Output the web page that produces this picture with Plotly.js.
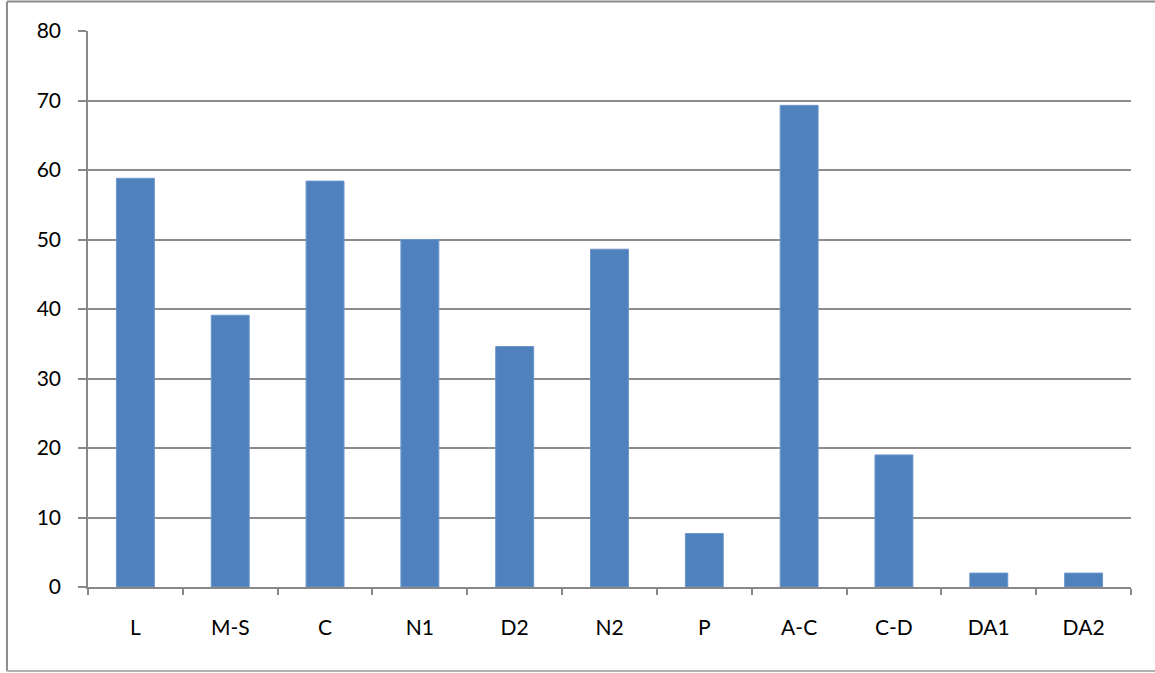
<!DOCTYPE html>
<html>
<head>
<meta charset="utf-8">
<script src="https://cdn.plot.ly/plotly-3.0.1.min.js"></script>
<style>
  html, body { margin: 0; padding: 0; background: #fff; }
  #chart { width: 1155px; height: 673px; }
</style>
</head>
<body>
<div id="chart"></div>
<script>
const categories = ["L", "M-S", "C", "N1", "D2", "N2", "P", "A-C", "C-D", "DA1", "DA2"];
const values = [58.8, 39.1, 58.4, 50.0, 34.6, 48.6, 7.7, 69.3, 19.0, 2.0, 2.0];
const yTicks = [0, 10, 20, 30, 40, 50, 60, 70, 80];

const fontFam = "Lato";

const trace = {
  type: "bar",
  x: categories,
  y: values,
  marker: { color: "#4f81bd", line: { color: "#6b96cb", width: 1 } },
  hoverinfo: "x+y"
};

const layout = {
  width: 1155,
  height: 673,
  margin: { l: 88, r: 24, t: 31, b: 86 },
  paper_bgcolor: "#ffffff",
  plot_bgcolor: "#ffffff",
  showlegend: false,
  bargap: 0.6,
  font: { family: fontFam, size: 21, color: "#000" },
  xaxis: {
    type: "category",
    showgrid: false,
    showline: true,
    linecolor: "#888888",
    linewidth: 1.5,
    ticks: "outside",
    tickson: "boundaries",
    ticklen: 6,
    tickcolor: "#888888",
    tickwidth: 1.5,
    ticklabelstandoff: 21,
    tickfont: { family: fontFam, size: 21, color: "#000" },
    fixedrange: true
  },
  yaxis: {
    range: [0, 80],
    tickvals: yTicks,
    ticktext: yTicks.map(String),
    showgrid: true,
    gridcolor: "#8c8c8c",
    gridwidth: 1.5,
    zeroline: false,
    showline: true,
    linecolor: "#888888",
    linewidth: 1.5,
    ticks: "outside",
    ticklen: 8,
    tickcolor: "#888888",
    tickwidth: 1.5,
    ticklabelstandoff: 13,
    tickfont: { family: fontFam, size: 21, color: "#000" },
    fixedrange: true
  },
  shapes: [
    { type: "line", xref: "paper", yref: "paper", x0: -0.0777, x1: -0.0777, y0: -0.151, y1: 1.053,
      line: { color: "#8c8c8c", width: 2 } },
    { type: "line", xref: "paper", yref: "paper", x0: -0.0777, x1: 1.03, y0: 1.053, y1: 1.053,
      line: { color: "#8c8c8c", width: 2 } },
    { type: "line", xref: "paper", yref: "paper", x0: -0.0777, x1: 1.03, y0: -0.151, y1: -0.151,
      line: { color: "#b0b0b0", width: 2 } }
  ]
};

Plotly.newPlot("chart", [trace], layout, { displayModeBar: false });
</script>
</body>
</html>
